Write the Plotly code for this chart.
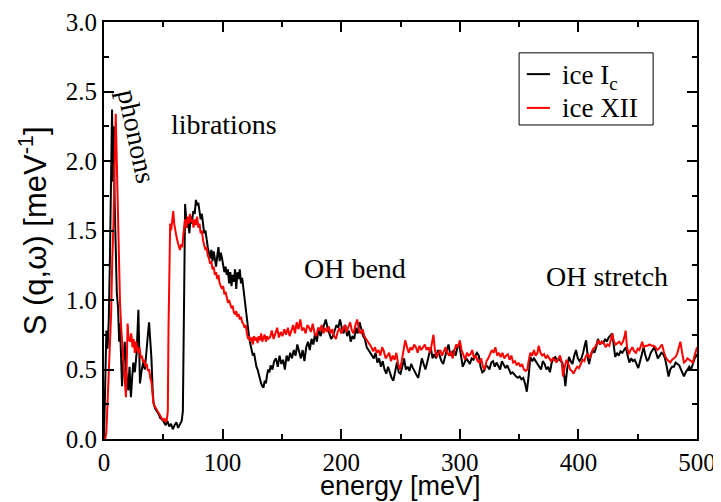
import plotly.graph_objects as go

# ice Ic (black) : (energy meV, S)
ic_points = [
(0,0.0),(1,0.55),(2,0.78),(3,0.65),(4,0.85),(5,1.30),(6,1.95),(6.8,2.37),(7.5,1.85),(8.3,2.25),
(9,1.70),(10,1.30),(10.8,1.05),(11.8,0.95),(12.8,0.70),(13.5,0.83),(14.5,0.45),(15.2,0.38),(16.3,0.55),(17.5,0.70),
(18.5,0.50),(19.5,0.40),(20.5,0.35),(21.5,0.52),(22.7,0.30),(23.8,0.45),(24.7,0.55),(26,0.48),(27.5,0.62),(29,0.93),
(30.3,0.40),(31.5,0.48),(33,0.55),(34.5,0.50),(36,0.70),(37,0.75),(38,0.84),(39,0.72),(40,0.58),(41,0.35),
(41.8,0.26),(43,0.22),(44.5,0.20),(46,0.18),(47.5,0.15),(49,0.14),(50.5,0.12),(52,0.10),(53.5,0.13),(55,0.09),
(56.5,0.11),(58,0.07),(59.5,0.10),(61,0.12),(62.5,0.08),(64,0.11),(65.5,0.13),(66.5,0.20),(67.2,0.70),(67.8,1.30),
(68.4,1.69),(69.3,1.58),(70.2,1.52),(71,1.56),(72,1.48),(73,1.60),(74,1.55),(75.3,1.64),(76.5,1.62),(77.5,1.72),
(78.5,1.68),(79.5,1.70),(80.5,1.64),(81.5,1.58),(82.5,1.62),(83.5,1.52),(84.5,1.48),(85.5,1.50),(86.5,1.42),(87.5,1.38),
(88.5,1.34),(89.5,1.30),(90.5,1.36),(91.5,1.28),(92.5,1.35),(93.5,1.30),(94.5,1.24),(95.5,1.32),(96.5,1.38),(97.5,1.28),
(98.5,1.34),(99.5,1.30),(100.5,1.26),(101.5,1.20),(102.5,1.24),(103.5,1.18),(104.5,1.22),(105.5,1.12),(106.5,1.20),(107.5,1.10),
(108.5,1.18),(109.5,1.13),(110.5,1.22),(111.5,1.08),(112.5,1.20),(113.5,1.15),(114.5,1.22),(115.5,1.12),(116.5,1.16),(117.5,1.08),
(118.5,1.02),(119.5,0.95),(120.5,0.88),(121.5,0.78),(122.5,0.72),(123.5,0.68),(124.5,0.64),(125.5,0.60),(126.5,0.62),(127.5,0.55),
(128.5,0.52),(129.5,0.50),(130.5,0.46),(131.5,0.44),(132.5,0.40),(133.5,0.38),(134.5,0.37),(135.5,0.42),(136.5,0.40),(137.5,0.46),
(138.5,0.50),(139.5,0.48),(140.5,0.53),(142,0.50),(143.5,0.56),(145,0.58),(146.5,0.52),(148,0.60),(149.5,0.54),(151,0.57),
(152.5,0.50),(154,0.60),(155.5,0.56),(157,0.62),(158.5,0.58),(160,0.64),(161.5,0.60),(163,0.68),(164.5,0.62),(166,0.58),
(167.5,0.64),(169,0.56),(170.5,0.66),(172,0.70),(173.5,0.64),(175,0.72),(176.5,0.68),(178,0.76),(179.5,0.70),(181,0.80),
(182.5,0.74),(184,0.78),(185.5,0.82),(187,0.86),(188.5,0.80),(190,0.76),(191.5,0.72),(193,0.74),(194.5,0.78),(196,0.82),
(197.5,0.80),(199,0.86),(200.5,0.80),(202,0.76),(203.5,0.82),(205,0.74),(206.5,0.78),(208,0.70),(209.5,0.74),(211,0.72),
(212.5,0.80),(214,0.76),(215.5,0.84),(217,0.78),(218.5,0.74),(220,0.72),(221.5,0.66),(223,0.64),(224.5,0.62),(226,0.60),
(227.5,0.58),(229,0.62),(230.5,0.55),(232,0.58),(233.5,0.52),(235,0.56),(236.5,0.50),(238,0.47),(239.5,0.52),(241,0.48),
(242.5,0.44),(244,0.42),(245.5,0.50),(247,0.55),(248.5,0.48),(250,0.47),(251.5,0.52),(253,0.58),(254.5,0.50),(256,0.52),
(257.5,0.49),(259,0.54),(260.5,0.51),(262,0.48),(263.5,0.46),(265,0.44),(266.5,0.52),(268,0.58),(269.5,0.54),(271,0.50),
(272.5,0.55),(274,0.60),(275.5,0.66),(277,0.58),(278.5,0.61),(280,0.58),(281.5,0.64),(283,0.60),(284.5,0.56),(286,0.54),
(287.5,0.60),(289,0.64),(290.5,0.68),(292,0.60),(293.5,0.62),(295,0.64),(296.5,0.60),(298,0.66),(299.5,0.68),(301,0.60),
(302.5,0.52),(304,0.55),(305.5,0.58),(307,0.56),(308.5,0.54),(310,0.58),(311.5,0.57),(313,0.60),(314.5,0.62),(316,0.60),
(317.5,0.52),(319,0.48),(320.5,0.49),(322,0.53),(323.5,0.52),(325,0.50),(326.5,0.55),(328,0.56),(329.5,0.52),(331,0.55),
(332.5,0.52),(334,0.50),(335.5,0.56),(337,0.54),(338.5,0.51),(340,0.53),(341.5,0.50),(343,0.47),(344.5,0.48),(346,0.46),
(347.5,0.45),(349,0.44),(350.5,0.45),(352,0.43),(353.5,0.44),(355,0.40),(356.5,0.34),(358,0.45),(359.5,0.59),(361,0.56),
(362.5,0.58),(364,0.56),(365.5,0.54),(367,0.52),(368.5,0.50),(370,0.56),(371.5,0.54),(373,0.50),(374.5,0.52),(376,0.48),
(377.5,0.55),(379,0.58),(380.5,0.59),(382,0.56),(383.5,0.58),(385,0.56),(386.5,0.55),(388,0.46),(389,0.38),(390.5,0.50),
(392,0.59),(393.5,0.56),(395,0.54),(396.5,0.60),(398,0.64),(399.5,0.58),(401,0.56),(402.5,0.58),(404,0.62),(405.5,0.68),
(406.5,0.71),(408,0.58),(409,0.54),(410.5,0.60),(412,0.64),(413.5,0.62),(415,0.66),(416.5,0.72),(418,0.68),(419.5,0.70),
(421,0.69),(422.5,0.72),(424,0.70),(425.5,0.73),(427,0.75),(428.5,0.76),(430,0.66),(431,0.59),(432.5,0.62),(434,0.60),
(435.5,0.63),(437,0.62),(438.5,0.64),(440,0.66),(441.5,0.60),(443,0.55),(444.5,0.58),(446,0.56),(447.5,0.57),(449,0.54),
(450.5,0.51),(452,0.56),(453.5,0.62),(455,0.66),(456.5,0.60),(458,0.56),(459.5,0.58),(461,0.62),(462.5,0.64),(464,0.66),
(465.5,0.62),(467,0.58),(468.5,0.60),(470,0.62),(471.5,0.61),(473,0.58),(474.5,0.52),(476,0.45),(477.5,0.50),(479,0.52),
(480.5,0.52),(482,0.55),(483.5,0.54),(485,0.53),(486.5,0.50),(488,0.47),(489,0.45),(490.5,0.48),(492,0.50),(493.5,0.52),
(495,0.50),(496.5,0.55),(498,0.58),(499.5,0.60),(500,0.61),
]

# ice XII (red) : (energy meV, S)
xii_points = [
(0,0.0),(1,0.0),(2,0.05),(3,0.25),(4,0.50),(5,0.62),(6,0.90),(7,1.30),(8,1.55),(8.7,1.90),
(9.3,2.15),(9.9,2.34),(10.5,2.10),(11.2,1.85),(11.8,1.55),(12.5,1.25),(13.5,0.98),(14.5,0.80),(15.3,0.65),(16.3,0.57),
(17.3,0.45),(18.5,0.30),(19.2,0.55),(19.9,0.83),(20.8,0.72),(22,0.70),(23,0.76),(24,0.66),(25,0.72),(26,0.62),
(27,0.70),(28,0.64),(29,0.62),(30,0.66),(31,0.58),(32,0.60),(33,0.55),(34,0.57),(35,0.52),(36,0.54),
(37,0.49),(38,0.50),(39,0.44),(40,0.41),(41,0.32),(41.6,0.26),(42.5,0.24),(44,0.22),(45.5,0.20),(47,0.18),
(48.5,0.16),(50,0.13),(51,0.15),(52,0.12),(53,0.14),(53.8,0.20),(54.4,0.80),(55,1.30),(55.8,1.55),(56.6,1.50),
(57.5,1.58),(58.4,1.64),(59.2,1.55),(60,1.50),(61,1.46),(62,1.42),(63,1.38),(64,1.36),(65,1.40),(66,1.38),
(67,1.48),(68.3,1.58),(69.5,1.52),(70.5,1.60),(71.5,1.55),(72.5,1.62),(73.5,1.56),(74.5,1.58),(75.5,1.52),(76.5,1.58),
(77.5,1.54),(78.5,1.60),(79.5,1.52),(80.5,1.55),(81.5,1.48),(82.5,1.50),(83.5,1.43),(84.5,1.40),(85.5,1.36),(86.5,1.38),
(87.5,1.32),(88.5,1.30),(89.5,1.26),(90.5,1.28),(91.5,1.22),(92.5,1.24),(93.5,1.18),(94.5,1.20),(95.5,1.15),(96.5,1.18),
(97.5,1.12),(98.5,1.10),(99.5,1.08),(100.5,1.10),(101.5,1.04),(102.5,1.06),(103.5,1.02),(104.5,0.98),(105.5,1.00),(106.5,0.96),
(107.5,0.94),(108.5,0.96),(109.5,0.91),(110.5,0.90),(111.5,0.92),(112.5,0.88),(113.5,0.90),(114.5,0.86),(115.5,0.88),(116.5,0.84),
(117.5,0.83),(118.5,0.80),(119.5,0.82),(120.5,0.76),(121.5,0.72),(122.5,0.74),(123.5,0.70),(124.5,0.73),(125.5,0.68),(126.5,0.74),
(127.5,0.71),(128.5,0.73),(129.5,0.69),(130.5,0.74),(131.5,0.71),(132.5,0.76),(133.5,0.70),(134.5,0.73),(135.5,0.75),(136.5,0.70),
(137.5,0.74),(138.5,0.72),(140,0.73),(141.5,0.78),(143,0.72),(144.5,0.76),(146,0.80),(147.5,0.73),(149,0.77),(150.5,0.74),
(152,0.79),(153.5,0.75),(155,0.80),(156.5,0.74),(158,0.78),(159.5,0.82),(161,0.76),(162.5,0.84),(164,0.79),(165.5,0.86),
(167,0.78),(168.5,0.80),(170,0.76),(171.5,0.82),(173,0.80),(174.5,0.77),(176,0.83),(177.5,0.76),(179,0.74),(180.5,0.80),
(182,0.78),(183.5,0.82),(185,0.76),(186.5,0.80),(188,0.77),(189.5,0.81),(191,0.76),(192.5,0.79),(194,0.74),(195.5,0.72),
(197,0.77),(198.5,0.80),(200,0.76),(201.5,0.79),(203,0.82),(204.5,0.77),(206,0.80),(207.5,0.84),(209,0.78),(210.5,0.76),
(212,0.82),(213.5,0.86),(215,0.78),(216.5,0.76),(218,0.79),(219.5,0.74),(221,0.72),(222.5,0.70),(224,0.68),(225.5,0.66),
(227,0.63),(228.5,0.66),(230,0.62),(231.5,0.64),(233,0.60),(234.5,0.66),(236,0.63),(237.5,0.58),(239,0.60),(240.5,0.62),
(242,0.56),(243.5,0.60),(245,0.57),(246.5,0.62),(248,0.54),(249.5,0.50),(251,0.56),(252.5,0.64),(254,0.71),(255.5,0.66),
(257,0.62),(258.5,0.66),(260,0.64),(261.5,0.68),(263,0.66),(264.5,0.62),(266,0.67),(267.5,0.64),(269,0.66),(270.5,0.68),
(272,0.64),(273.5,0.66),(275,0.62),(276.5,0.70),(277.8,0.75),(279,0.64),(280.5,0.59),(282,0.62),(283.5,0.64),(285,0.60),
(286.5,0.63),(288,0.66),(289.5,0.62),(291,0.60),(292.5,0.63),(294,0.58),(295.5,0.64),(297,0.68),(298.5,0.66),(300,0.71),
(301.5,0.64),(303,0.60),(304.5,0.57),(306,0.62),(307.5,0.60),(309,0.61),(310.5,0.64),(312,0.58),(313.5,0.60),(315,0.56),
(316.5,0.55),(318,0.58),(319.5,0.52),(321,0.50),(322.5,0.56),(324,0.58),(325.5,0.61),(327,0.64),(328.5,0.62),(330,0.66),
(331.5,0.60),(333,0.62),(334.5,0.59),(336,0.62),(337.5,0.58),(339,0.60),(340.5,0.61),(342,0.57),(343.5,0.60),(345,0.55),
(346.5,0.56),(348,0.53),(349.5,0.55),(351,0.52),(352.5,0.54),(354,0.50),(355.5,0.49),(357,0.50),(358,0.56),(359.5,0.62),
(361,0.60),(362.5,0.64),(364,0.60),(365.5,0.62),(366.5,0.67),(368,0.62),(369.5,0.60),(371,0.61),(372.5,0.58),(374,0.60),
(375.5,0.58),(377,0.56),(378.5,0.58),(380,0.57),(381.5,0.55),(383,0.58),(384.5,0.60),(386,0.55),(387,0.45),(388.5,0.52),
(390,0.57),(391.5,0.54),(393,0.50),(394.5,0.49),(396,0.47),(397.5,0.50),(399,0.52),(400.5,0.51),(402,0.54),(403.5,0.57),
(405,0.56),(406.5,0.60),(408,0.61),(409.5,0.58),(411,0.62),(412.5,0.65),(414,0.66),(415.5,0.69),(417,0.71),(418.5,0.68),
(420,0.70),(421.5,0.69),(423,0.66),(424.5,0.68),(426,0.67),(427.5,0.72),(428.5,0.76),(430,0.70),(431.5,0.68),(433,0.69),
(434.5,0.70),(436,0.68),(437.5,0.70),(439,0.74),(439.8,0.78),(441,0.66),(442.5,0.61),(444,0.64),(445.5,0.66),(447,0.63),
(448.5,0.62),(450,0.65),(451.5,0.64),(453,0.68),(453.8,0.70),(455,0.66),(456.5,0.67),(458,0.67),(460,0.68),(462,0.67),
(463.5,0.67),(465,0.66),(466.5,0.64),(468,0.65),(469.5,0.67),(470.5,0.68),(472,0.63),(473.5,0.59),(475,0.57),(476.5,0.56),
(477.5,0.55),(479,0.57),(480.5,0.58),(482,0.59),(483.5,0.62),(485,0.66),(486,0.70),(487.5,0.62),(489,0.55),(490.5,0.56),
(492,0.58),(493.5,0.57),(495,0.56),(496.5,0.55),(498,0.60),(499.5,0.64),(500,0.66),
]

energy_ic = [p[0] for p in ic_points]
s_ic = [p[1] for p in ic_points]
energy_xii = [p[0] for p in xii_points]
s_xii = [p[1] for p in xii_points]

series_names = ["ice I<sub>c</sub>", "ice XII"]
series_colors = ["black", "#ff0000"]

x_ticks = [0, 100, 200, 300, 400, 500]
y_ticks = [0.0, 0.5, 1.0, 1.5, 2.0, 2.5, 3.0]

labels = ["phonons", "librations", "OH bend", "OH stretch"]
label_pos = [(27, 2.18), (101, 2.26), (211.6, 1.23), (424, 1.17)]
label_angle = [78, 0, 0, 0]

SERIF = "Liberation Serif, Times New Roman, serif"
SANS = "Liberation Sans, Arial, sans-serif"

fig = go.Figure()
fig.add_trace(go.Scatter(x=energy_ic, y=s_ic, mode="lines", name=series_names[0],
                         line=dict(color=series_colors[0], width=2), showlegend=False))
fig.add_trace(go.Scatter(x=energy_xii, y=s_xii, mode="lines", name=series_names[1],
                         line=dict(color=series_colors[1], width=2), showlegend=False))

for txt, (ex, ey), ang in zip(labels, label_pos, label_angle):
    fig.add_annotation(x=ex, y=ey, text=txt, showarrow=False, textangle=ang,
                       font=dict(family=SERIF, size=28, color="black"))

# axis titles placed as paper annotations
fig.add_annotation(xref="paper", yref="paper", x=0.5, y=-0.112, yanchor="middle",
                   text="energy [meV]", showarrow=False,
                   font=dict(family=SANS, size=27, color="black"))
fig.add_annotation(xref="paper", yref="paper", x=-0.12, y=0.5, xanchor="center",
                   text="S (q,ω) [meV<sup>-1</sup>]", showarrow=False, textangle=-90,
                   font=dict(family=SANS, size=31, color="black"))

# hand-drawn legend box (paper coordinates)
fig.add_shape(type="rect", xref="paper", yref="paper", x0=0.700, x1=0.926, y0=0.753, y1=0.926,
              line=dict(color="black", width=1), fillcolor="white", layer="above")
legend_rows = [0.875, 0.794]
for name, col, yy in zip(series_names, series_colors, legend_rows):
    fig.add_shape(type="line", xref="paper", yref="paper", x0=0.713, x1=0.752, y0=yy, y1=yy,
                  line=dict(color=col, width=2), layer="above")
    fig.add_annotation(xref="paper", yref="paper", x=0.769, y=yy, xanchor="left", yanchor="middle",
                       text=name, showarrow=False,
                       yshift=-3 if "sub" in name else 0,
                       font=dict(family=SERIF, size=27, color="black"))

axis_common = dict(showline=True, linecolor="black", linewidth=2, mirror="allticks",
                   ticks="inside", ticklen=10, tickwidth=1.5, tickcolor="black",
                   showgrid=False, zeroline=False, automargin=False,
                   tickfont=dict(family=SERIF, size=25, color="black"))

fig.update_xaxes(range=[0, 500], tickvals=x_ticks, ticktext=[str(v) for v in x_ticks],
                 minor=dict(dtick=50, ticks="inside", ticklen=5, tickwidth=1.5, tickcolor="black", showgrid=False),
                 **axis_common)
fig.update_yaxes(range=[0, 3], tickvals=y_ticks, ticktext=[f"{v:.1f}" for v in y_ticks],
                 minor=dict(dtick=0.25, ticks="inside", ticklen=5, tickwidth=1.5, tickcolor="black", showgrid=False),
                 **axis_common)

# the page body adds an 8px offset, so the figure is sized to fit the window
fig.update_layout(
    width=713, height=494,
    margin=dict(l=96, r=24, t=14, b=63),
    plot_bgcolor="white", paper_bgcolor="white",
    showlegend=False,
)

fig.write_html("out.html")
